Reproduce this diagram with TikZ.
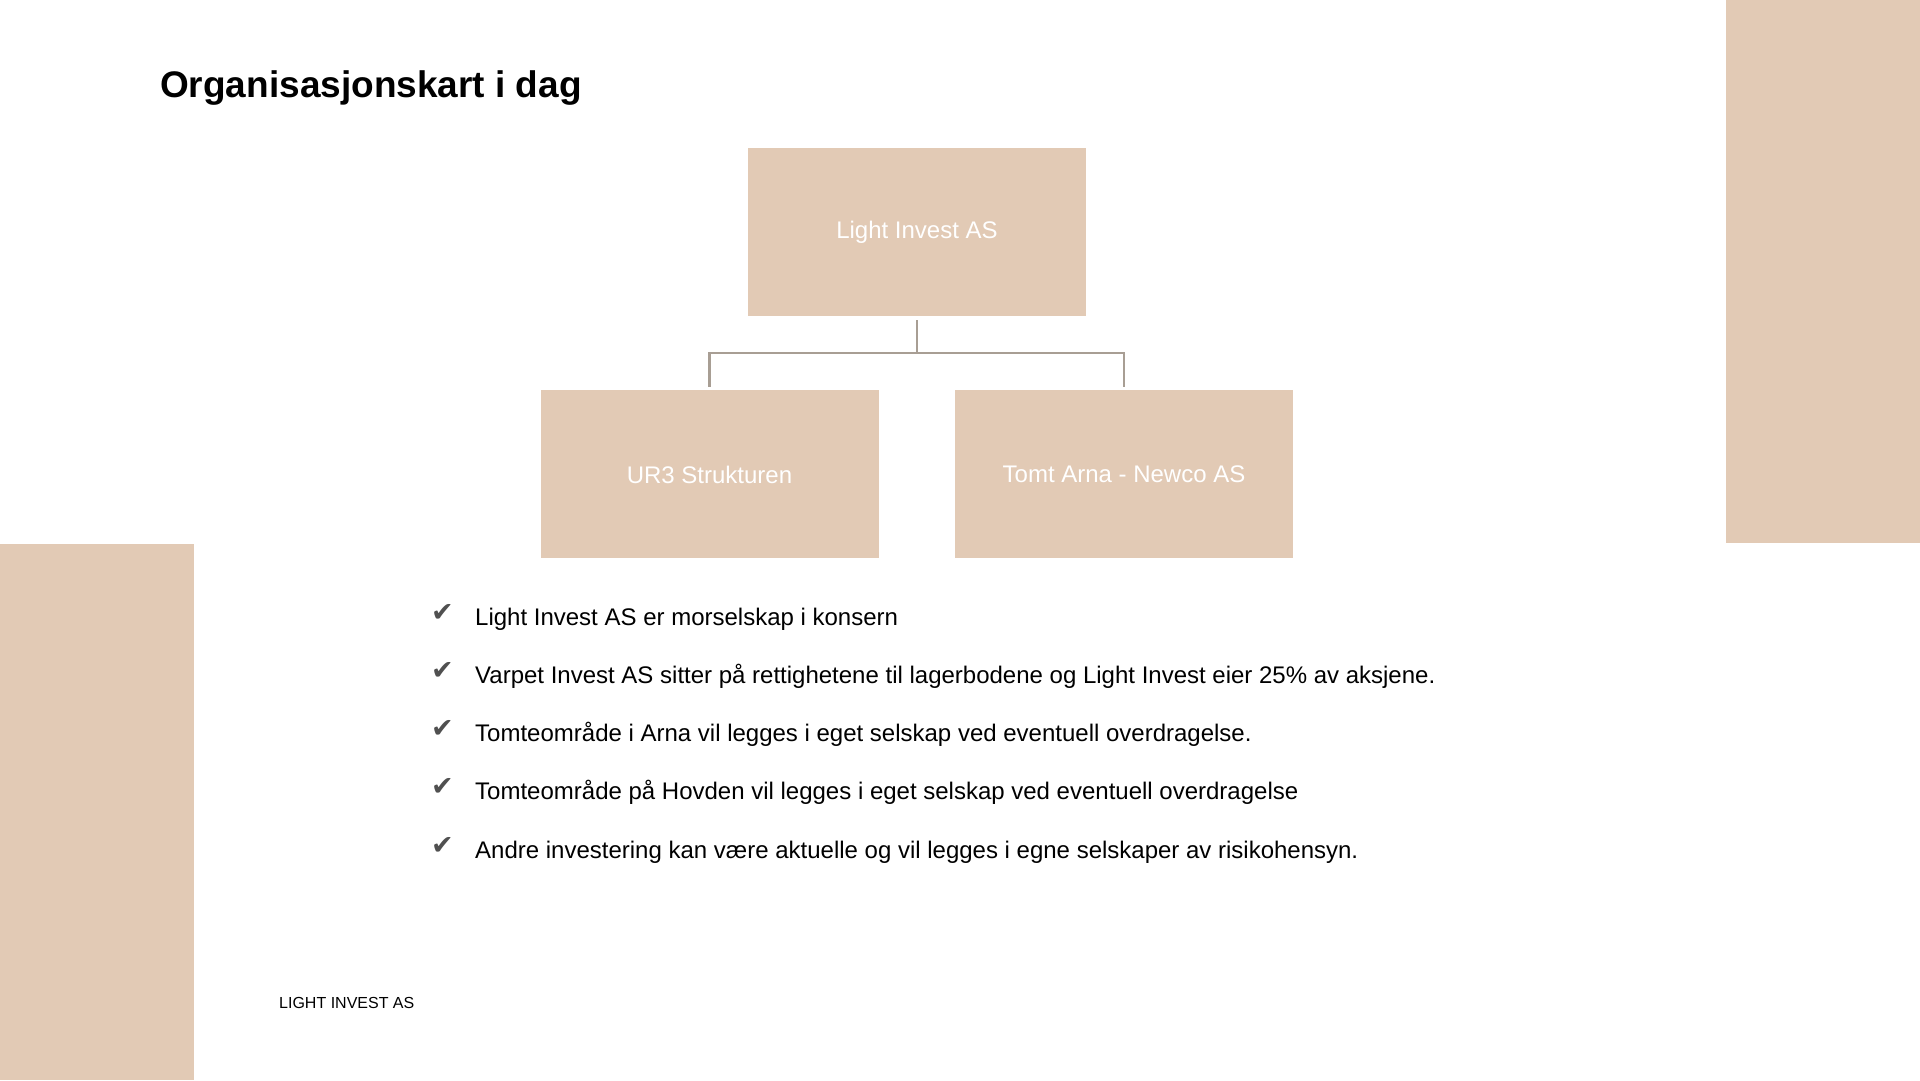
\documentclass[tikz,border=0pt]{standalone}
\usepackage{fontspec}
\setmainfont{Liberation Sans}
\newfontfamily\symfont{DejaVu Sans}
\usetikzlibrary{positioning}

\definecolor{beige}{RGB}{226,202,181}
\definecolor{linje}{RGB}{168,158,148}
\definecolor{hake}{RGB}{80,80,80}

\tikzset{
  orgbox/.style={fill=beige, minimum width=338pt, minimum height=168pt,
    text=white, font=\fontsize{24}{28}\selectfont, inner sep=0pt},
  orglink/.style={draw=linje, line width=2.5pt, shorten <=4pt, shorten >=3pt},
  punkt/.style={anchor=base west, inner sep=0pt, font=\fontsize{24}{28}\selectfont}
}

\begin{document}
\begin{tikzpicture}[x=1pt,y=1pt]

% Ramme
\useasboundingbox (0,0) rectangle (1920,1080);
\fill[white] (0,0) rectangle (1920,1080);

% Dekorfelt
\fill[beige] (1726,537) rectangle (1920,1080);
\fill[beige] (0,0) rectangle (194,536);

% Tittel
\node[anchor=base west, inner sep=0pt, font=\fontsize{37}{44}\selectfont\bfseries]
  (tittel) at (160,982) {Organisasjonskart i dag};

% Organisasjonskart
\node[orgbox] (lightinvest) at (917,848) {Light Invest AS};
\node[orgbox] (ur3) at (709.5,605.5) {UR3 Strukturen};
\node[orgbox] (tomt) at (1124,605.5) {Tomt Arna - Newco AS};

\draw[orglink] (lightinvest.south) -- ++(0,-37) -| (ur3.north);
\draw[orglink] (lightinvest.south) -- ++(0,-37) -| (tomt.north);

% Punkter
\foreach \txt [count=\i] in {
  {Light Invest AS er morselskap i konsern},
  {Varpet Invest AS sitter på rettighetene til lagerbodene og Light Invest eier 25\% av aksjene.},
  {Tomteområde i Arna vil legges i eget selskap ved eventuell overdragelse.},
  {Tomteområde på Hovden vil legges i eget selskap ved eventuell overdragelse},
  {Andre investering kan være aktuelle og vil legges i egne selskaper av risikohensyn.}}
{
  \node[anchor=base west, inner sep=0pt, text=hake, font=\symfont\fontsize{27}{30}\selectfont]
    (hake\i) at (431,{454-(\i-1)*58+4}) {✔};
  \node[punkt] (punkt\i) at (475,{454-(\i-1)*58}) {\txt};
}

% Bunntekst
\node[anchor=base west, inner sep=0pt, font=\fontsize{16}{19}\selectfont]
  (bunn) at (279,72) {LIGHT INVEST AS};

\end{tikzpicture}
\end{document}
